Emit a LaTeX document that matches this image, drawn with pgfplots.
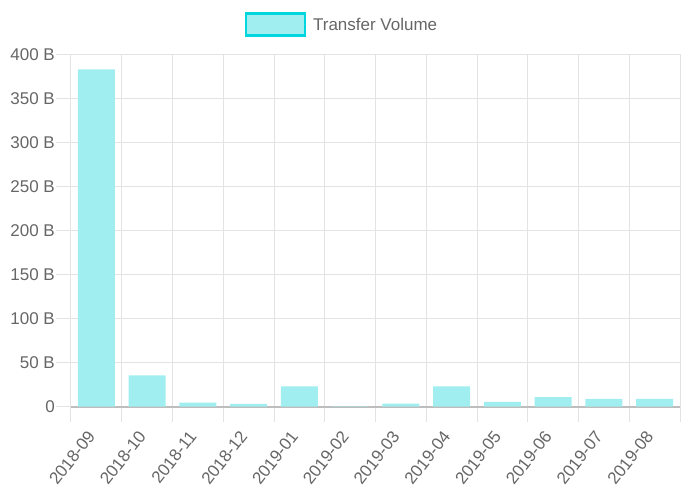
\documentclass[border=0pt]{standalone}
\usepackage{pgfplots}
\pgfplotsset{compat=1.18}
\usepackage{fontspec}
\setmainfont{Liberation Sans}
\definecolor{txt}{HTML}{666666}
\definecolor{barfill}{HTML}{A0EEF0}
\definecolor{barline}{HTML}{00D6DE}
\definecolor{gridc}{HTML}{E3E3E3}
\definecolor{zeroc}{HTML}{BDBDBD}
\begin{document}
\begin{tikzpicture}
\useasboundingbox (0,0) rectangle (681pt,487pt);
\begin{axis}[
  at={(71pt,80.3pt)}, anchor=south west,
  scale only axis, width=609pt, height=352.4pt,
  xmin=-0.5, xmax=11.5, ymin=0, ymax=400,
  ybar, bar width=37pt, bar shift=0pt,
  axis x line*=bottom, axis y line*=left,
  x axis line style={draw=zeroc, line width=2pt, -},
  y axis line style={draw=gridc, line width=1pt, -},
  xtick={0,...,11},
  xticklabels={2018-09,2018-10,2018-11,2018-12,2019-01,2019-02,2019-03,2019-04,2019-05,2019-06,2019-07,2019-08},
  minor xtick={-0.5,0.5,...,11.5},
  xminorgrids=true,
  minor x grid style={draw=gridc, line width=1pt},
  major x tick style={draw=none},
  minor x tick style={draw=gridc, line width=1pt},
  ytick={0,50,...,400},
  yticklabels={0,50 B,100 B,150 B,200 B,250 B,300 B,350 B,400 B},
  ymajorgrids=true,
  y grid style={draw=gridc, line width=1pt},
  major y tick style={draw=gridc, line width=1pt},
  tick align=outside,
  major tick length=15pt, minor tick length=15pt,
  tick label style={font=\fontsize{17}{19}\selectfont, text=txt},
  x tick label style={rotate=52, anchor=east, inner sep=0pt, yshift=-3pt, xshift=-12pt},
  y tick label style={anchor=east, inner sep=0pt, xshift=-1pt},
  legend style={at={(0.445,1)}, anchor=south, yshift=17pt, draw=none, fill=none,
    font=\fontsize{17}{19}\selectfont, text=txt, inner sep=0pt},
  legend image code/.code={\draw[draw=barline, fill=barfill, line width=2.6pt] (0pt,-11pt) rectangle (59pt,11pt); \path (0pt,0pt) -- (65pt,0pt);},
]
\addplot[fill=barfill, draw=none] coordinates {
(0,383) (1,35.5) (2,4.6) (3,3.1) (4,23) (5,0.3) (6,3.5) (7,23) (8,5.4) (9,10.8) (10,8.8) (11,8.8)};
\addlegendentry{Transfer Volume}
\end{axis}
\end{tikzpicture}
\end{document}
